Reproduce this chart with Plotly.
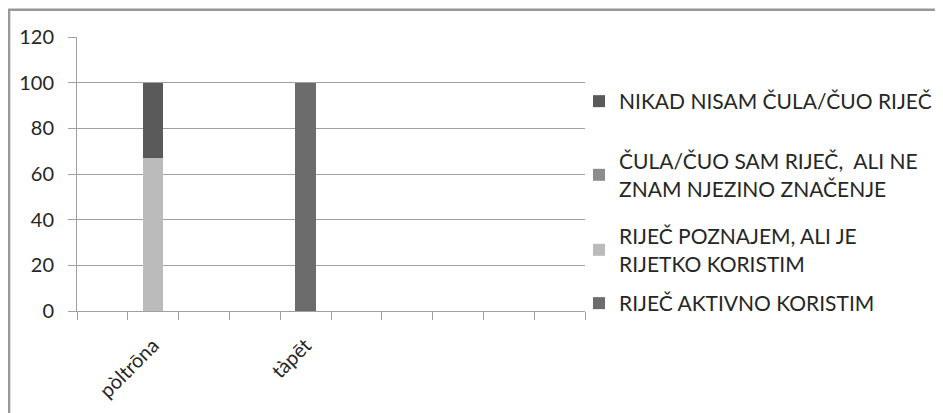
import plotly.graph_objects as go

categories = ["", "pòltrōna", " ", "  ", "tàpēt", "   ", "    ", "     ", "      ", "       "]
series_names = [
    "RIJEČ AKTIVNO KORISTIM",
    "RIJEČ POZNAJEM, ALI JE<br>RIJETKO KORISTIM",
    "ČULA/ČUO SAM RIJEČ,  ALI NE<br>ZNAM NJEZINO ZNAČENJE",
    "NIKAD NISAM ČULA/ČUO RIJEČ",
]
aktivno = [None, 0, None, None, 100, None, None, None, None, None]
poznajem = [None, 67, None, None, 0, None, None, None, None, None]
cula = [None, 0, None, None, 0, None, None, None, None, None]
nikad = [None, 33, None, None, 0, None, None, None, None, None]
y_ticks = [0, 20, 40, 60, 80, 100, 120]

colors = ["#6c6c6c", "#bbbbbb", "#8c8c8c", "#5a5a5a"]
values = [aktivno, poznajem, cula, nikad]
legend_ids = ["legend4", "legend3", "legend2", "legend"]
legend_tops = [275, 208, 133, 73]  # px from top of figure

FONT = "Lato"
W, H = 943, 413

fig = go.Figure()
for name, vals, col, lg in zip(series_names, values, colors, legend_ids):
    fig.add_trace(go.Bar(x=categories, y=vals, name=name, marker_color=col,
                         marker_line_width=0, width=0.4, legend=lg,
                         showlegend=True))

layout_legends = {}
for lg, top in zip(legend_ids, legend_tops):
    layout_legends[lg] = dict(
        x=571 / W, xref="container", xanchor="left",
        y=1 - top / H, yref="container", yanchor="top",
        font=dict(family=FONT, size=21, color="#262626"),
        bgcolor="rgba(0,0,0,0)", borderwidth=0,
    )

# plot area (figure coords): left 69, right 577.5, top 29.3, bottom 302.7
fig.update_layout(
    width=W, height=H,
    barmode="stack",
    showlegend=True,
    plot_bgcolor="white", paper_bgcolor="white",
    margin=dict(l=69, r=365.5, t=29.3, b=110.3, autoexpand=False),
    font=dict(family=FONT, size=20, color="#262626"),
    **layout_legends,
    xaxis=dict(
        type="category", categoryorder="array", categoryarray=categories,
        range=[-0.5, 9.5], automargin=False,
        showgrid=False, showline=True, linecolor="#a0a0a0", linewidth=1,
        ticks="outside", tickson="boundaries", ticklen=8, tickcolor="#a0a0a0",
        tickangle=-45, ticklabelstandoff=14,
        tickfont=dict(family=FONT, size=20, color="#262626"),
    ),
    yaxis=dict(
        range=[0, 120], tickvals=y_ticks, automargin=False,
        showgrid=True, gridcolor="#a0a0a0", gridwidth=1,
        showline=True, linecolor="#a0a0a0", linewidth=1,
        ticks="outside", ticklen=8, tickcolor="#a0a0a0",
        ticklabelstandoff=10,
        tickfont=dict(family=FONT, size=20, color="#262626"),
        zeroline=False,
    ),
    shapes=[dict(type="rect", xref="paper", yref="paper",
                 x0=(1 - 69) / 508.5, x1=2.0,
                 y0=-0.6, y1=(302.7 - 2) / 273.4,
                 line=dict(color="#999999", width=2.5), fillcolor="rgba(0,0,0,0)",
                 layer="below")],
)

fig.write_html("out.html")
